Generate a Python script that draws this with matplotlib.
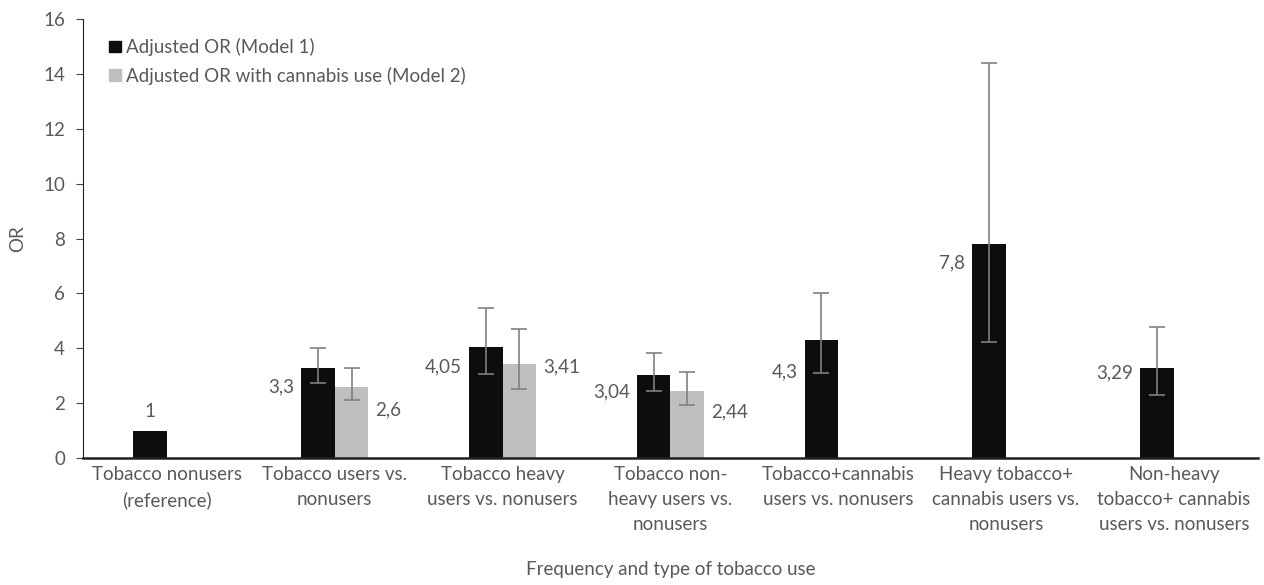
import matplotlib.pyplot as plt
from matplotlib.patches import Patch
import numpy as np

# Data
categories = [
    "Tobacco nonusers\n(reference)",
    "Tobacco users vs.\nnonusers",
    "Tobacco heavy\nusers vs. nonusers",
    "Tobacco non-\nheavy users vs.\nnonusers",
    "Tobacco+cannabis\nusers vs. nonusers",
    "Heavy tobacco+\ncannabis users vs.\nnonusers",
    "Non-heavy\ntobacco+ cannabis\nusers vs. nonusers",
]
model1 = [1.0, 3.3, 4.05, 3.04, 4.3, 7.8, 3.29]
model1_lo = [np.nan, 2.74, 3.05, 2.43, 3.11, 4.24, 2.30]
model1_hi = [np.nan, 4.02, 5.46, 3.84, 6.00, 14.41, 4.78]
model1_labels = ["1", "3,3", "4,05", "3,04", "4,3", "7,8", "3,29"]

model2 = [np.nan, 2.6, 3.41, 2.44, np.nan, np.nan, np.nan]
model2_lo = [np.nan, 2.11, 2.51, 1.92, np.nan, np.nan, np.nan]
model2_hi = [np.nan, 3.30, 4.69, 3.13, np.nan, np.nan, np.nan]
model2_labels = ["", "2,6", "3,41", "2,44", "", "", ""]

# label heights (where the value text sits)
label1_y = [1.7, 2.6, 3.33, 2.4, 3.15, 7.1, 3.11]
label2_y = [np.nan, 1.75, 3.31, 1.69, np.nan, np.nan, np.nan]

plt.rcParams["font.family"] = ["Lato", "DejaVu Sans"]
text_color = "#595959"
err_color = "#808080"
black = "#0d0d0d"
grey = "#bfbfbf"
fs = 13.5

fig = plt.figure(figsize=(12.64, 5.85), dpi=100)
ax = fig.add_axes([0.0657, 0.217, 0.9293, 0.7505])

x = np.arange(len(categories))
w = 0.2
m1 = np.array(model1)
m2 = np.array(model2)

ax.bar(x - w / 2, m1, w, color=black, zorder=2)
ax.bar(x + w / 2, m2, w, color=grey, zorder=2)

ax.errorbar(x - w / 2, m1, yerr=[m1 - np.array(model1_lo), np.array(model1_hi) - m1],
            fmt="none", ecolor=err_color, elinewidth=1.2, capsize=6, capthick=1.2, zorder=3)
ax.errorbar(x + w / 2, m2, yerr=[m2 - np.array(model2_lo), np.array(model2_hi) - m2],
            fmt="none", ecolor=err_color, elinewidth=1.2, capsize=6, capthick=1.2, zorder=3)

# value labels
for i, lab in enumerate(model1_labels):
    if i == 0:
        ax.annotate(lab, (x[i] - w / 2, label1_y[i]), ha="center", va="center",
                    fontsize=fs, color=text_color)
    else:
        ax.annotate(lab, (x[i] - w, label1_y[i]), xytext=(-5, 0), textcoords="offset points",
                    ha="right", va="center", fontsize=fs, color=text_color)
for i, lab in enumerate(model2_labels):
    if lab:
        ax.annotate(lab, (x[i] + w, label2_y[i]), xytext=(5, 0), textcoords="offset points",
                    ha="left", va="center", fontsize=fs, color=text_color)

ax.set_xlim(-0.5, len(categories) - 0.5)
ax.set_ylim(0, 16)
ax.set_yticks(range(0, 17, 2))
ax.set_xticks(x)
ax.set_xticklabels(categories, fontsize=fs, color=text_color, linespacing=1.55)
ax.tick_params(axis="x", length=0, pad=6)
ax.tick_params(axis="y", labelsize=fs, labelcolor=text_color, length=5, color="#404040", pad=8)

for s in ["top", "right"]:
    ax.spines[s].set_visible(False)
ax.spines["left"].set_color("#202020")
ax.spines["bottom"].set_color("#202020")
ax.spines["bottom"].set_linewidth(1.8)

ax.set_ylabel("OR", fontsize=fs, color=text_color, labelpad=12)
ax.set_xlabel("Frequency and type of tobacco use", fontsize=fs, color=text_color, labelpad=20)

handles = [Patch(color=black), Patch(color=grey)]
ax.legend(handles, ["Adjusted OR (Model 1)", "Adjusted OR with cannabis use (Model 2)"],
          loc="upper left", bbox_to_anchor=(0.008, 0.995), frameon=False, fontsize=fs,
          handlelength=0.6, handleheight=0.6, handletextpad=0.3, labelspacing=0.55,
          labelcolor=text_color)

fig.savefig("out.png", dpi=100)
